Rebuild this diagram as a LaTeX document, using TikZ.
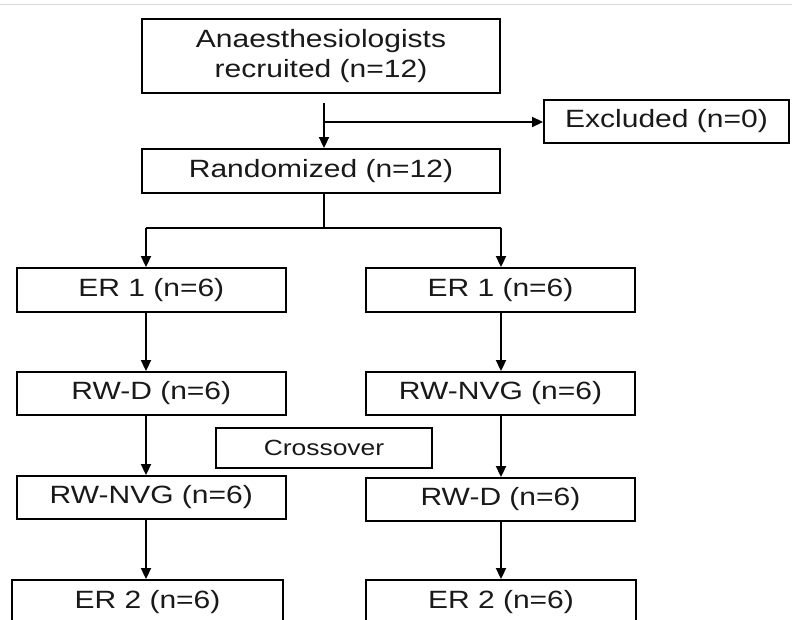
\documentclass[tikz,border=0pt]{standalone}
\usepackage{fontspec}
\setmainfont{Liberation Sans}[FakeStretch=1.2]
\usetikzlibrary{arrows.meta}
\begin{document}
\begin{tikzpicture}[x=1pt,y=-1pt,
  box/.style={draw, line width=1.9pt, inner sep=0pt, align=center,
    font=\fontsize{25}{30}\selectfont, text=black!90},
  small/.style={font=\fontsize{22}{26}\selectfont},
  arr/.style={line width=1.9pt, -{Triangle[length=11pt,width=10pt]}},
  ln/.style={line width=1.9pt}]
\clip (0,0) rectangle (792,619);
\fill[white] (0,0) rectangle (792,619);
\draw[black!15, line width=1pt] (0,4) -- (792,4);
% boxes
\node[box, minimum width=358pt, minimum height=74pt] (top) at (321,56) {Anaesthesiologists\\recruited (n=12)};
\node[box, minimum width=245pt, minimum height=43pt] (excl) at (666.5,121.5) {Excluded (n=0)};
\node[box, minimum width=358pt, minimum height=44pt] (rand) at (321,171) {Randomized (n=12)};
\node[box, minimum width=269pt, minimum height=44pt] (erL) at (151.3,290) {ER 1 (n=6)};
\node[box, minimum width=269pt, minimum height=44pt] (erR) at (500.5,290) {ER 1 (n=6)};
\node[box, minimum width=269pt, minimum height=43pt] (rwdL) at (151.3,393.5) {RW-D (n=6)};
\node[box, minimum width=269pt, minimum height=43pt] (rwnR) at (500.5,393.5) {RW-NVG (n=6)};
\node[box, small, minimum width=216pt, minimum height=40pt] (cross) at (324,448) {Crossover};
\node[box, minimum width=269pt, minimum height=43pt] (rwnL) at (151.3,497.5) {RW-NVG (n=6)};
\node[box, minimum width=269pt, minimum height=43pt] (rwdR) at (500.5,499.5) {RW-D (n=6)};
\node[box, minimum width=271pt, minimum height=44pt] (er2L) at (147.5,602) {ER 2 (n=6)};
\node[box, minimum width=270pt, minimum height=44pt] (er2R) at (501,602) {ER 2 (n=6)};
% connector coordinates
\coordinate (t1) at (324,103);
\coordinate (t2) at (324,122);
\coordinate (j) at (324,228);
\coordinate (jl) at (146,228);
\coordinate (jr) at (501,228);
% connectors
\draw[arr] (t1) -- (t1 |- rand.north);
\draw[arr] (t2) -- (excl.west |- t2);
\draw[ln] (j |- rand.south) -- (j);
\draw[ln] (jl) -- (jr);
\draw[arr] (jl) -- (jl |- erL.north);
\draw[arr] (jr) -- (jr |- erR.north);
\draw[arr] (erL.south -| jl) -- (rwdL.north -| jl);
\draw[arr] (erR.south -| jr) -- (rwnR.north -| jr);
\draw[arr] (rwdL.south -| jl) -- (rwnL.north -| jl);
\draw[arr] (rwnR.south -| jr) -- (rwdR.north -| jr);
\draw[arr] (rwnL.south -| jl) -- (er2L.north -| jl);
\draw[arr] (rwdR.south -| jr) -- (er2R.north -| jr);
\end{tikzpicture}
\end{document}
